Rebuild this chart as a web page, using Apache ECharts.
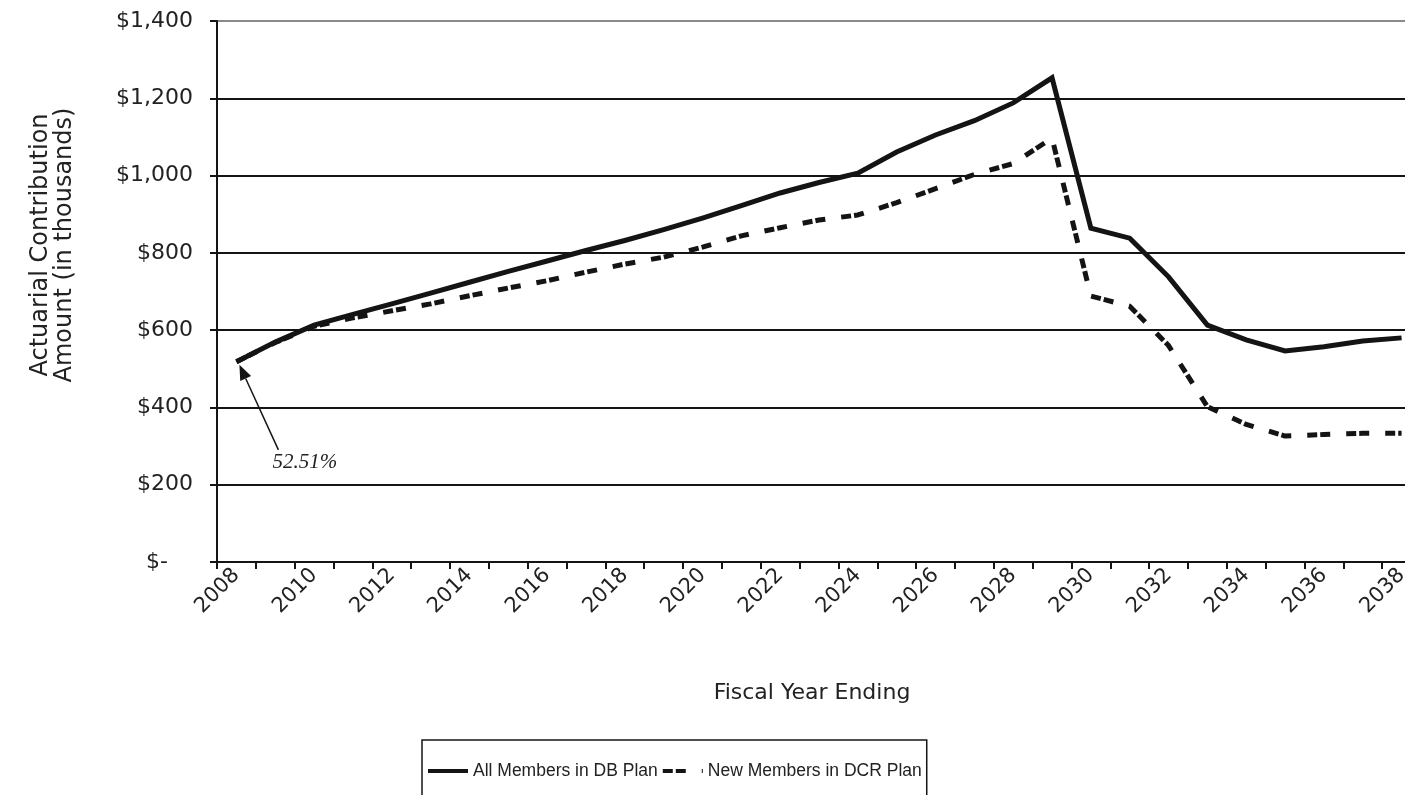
<!DOCTYPE html>
<html>
<head>
<meta charset="utf-8">
<script src="https://cdn.jsdelivr.net/npm/echarts@6/dist/echarts.min.js"></script>
<style>
html,body{margin:0;padding:0;background:#ffffff;}
#chart{width:1405px;height:795px;}
</style>
</head>
<body>
<div id="chart"></div>
<script>
// ---- data ----
const years = ['2008','2009','2010','2011','2012','2013','2014','2015','2016','2017',
               '2018','2019','2020','2021','2022','2023','2024','2025','2026','2027',
               '2028','2029','2030','2031','2032','2033','2034','2035','2036','2037','2038'];
const allMembersDB = [518, 569, 613, 641, 668, 696, 724, 752, 779, 806,
                      832, 860, 890, 922, 955, 982, 1006, 1061, 1105, 1142,
                      1188, 1253, 864, 838, 738, 613, 575, 546, 557, 572, 580];
const newMembersDCR = [518, 568, 610, 632, 650, 668, 689, 709, 728, 750,
                       771, 789, 815, 844, 865, 885, 898, 930, 966, 1003,
                       1031, 1097, 688, 662, 560, 402, 356, 326, 330, 333, 333];
const yMin = 0, yMax = 1400, yStep = 200;
const seriesNames = ['All Members in DB Plan', 'New Members in DCR Plan'];
const yTitleLines = ['Actuarial Contribution', 'Amount (in thousands)'];
const xTitle = 'Fiscal Year Ending';
const annotationText = '52.51%';

const chart = echarts.init(document.getElementById('chart'), null, {renderer: 'canvas'});
const ink = '#141414';

function yLabel(v) {
  if (v === 0) return '{z|$-}';
  return '$' + v.toLocaleString('en-US');
}

const option = {
  backgroundColor: '#ffffff',
  animation: false,
  grid: {left: 217, top: 21, right: -16, bottom: 233, containLabel: false, outerBoundsMode: 'none'},
  xAxis: {
    type: 'category',
    data: years,
    boundaryGap: true,
    axisLine: {show: true, lineStyle: {color: ink, width: 2}},
    axisTick: {show: true, interval: 0, length: 7, inside: false, lineStyle: {color: ink, width: 2}},
    axisLabel: {interval: 1, rotate: 45, margin: 10, color: '#222',
                fontFamily: 'DejaVu Sans', fontSize: 21},
    splitLine: {show: false}
  },
  yAxis: {
    type: 'value',
    min: yMin, max: yMax, interval: yStep,
    axisLine: {show: true, lineStyle: {color: ink, width: 2}},
    axisTick: {show: true, length: 7, inside: false, lineStyle: {color: ink, width: 2}},
    axisLabel: {formatter: yLabel, margin: 24, color: '#222',
                fontFamily: 'DejaVu Sans', fontSize: 22,
                rich: {z: {fontFamily: 'DejaVu Sans', fontSize: 22, color: '#222', padding: [0, 25, 0, 0]}}},
    splitLine: {show: true, lineStyle: {width: 2,
      color: [ink, ink, ink, ink, ink, ink, ink, '#8a8a8a']}}
  },
  legend: {
    left: 422, top: 740,
    orient: 'horizontal',
    itemGap: 3, itemWidth: 40, itemHeight: 14,
    padding: [22, 5, 30, 4],
    borderColor: ink, borderWidth: 1.5,
    itemStyle: {opacity: 0},
    lineStyle: {width: 4, color: ink},
    textStyle: {fontFamily: 'Liberation Sans', fontSize: 17.5, color: '#222'},
    data: seriesNames
  },
  series: [
    {
      name: seriesNames[0], type: 'line', data: allMembersDB,
      symbol: 'none', smooth: false,
      lineStyle: {color: ink, width: 5, type: 'solid', join: 'miter'},
      itemStyle: {color: ink}, z: 3
    },
    {
      name: seriesNames[1], type: 'line', data: newMembersDCR,
      symbol: 'none', smooth: false,
      lineStyle: {color: ink, width: 5, type: [10, 3, 10, 16], cap: 'butt'},
      itemStyle: {color: ink}, z: 2
    }
  ]
};
chart.setOption(option);

// annotation and axis titles, anchored to the chart's own coordinates
const p = chart.convertToPixel({xAxisIndex: 0, yAxisIndex: 0}, [years[0], allMembersDB[0]]);
const tip = [p[0] + 3, p[1] + 3];
const tail = [p[0] + 42, p[1] + 88];
const dx = tip[0] - tail[0], dy = tip[1] - tail[1];
const len = Math.sqrt(dx * dx + dy * dy);
const ux = dx / len, uy = dy / len;
const headLen = 15, headW = 6;
const base = [tip[0] - ux * headLen, tip[1] - uy * headLen];
const plotBottom = chart.convertToPixel({yAxisIndex: 0}, yMin);

chart.setOption({
  graphic: [
    {type: 'line', silent: true,
     shape: {x1: tail[0], y1: tail[1], x2: base[0], y2: base[1]},
     style: {stroke: ink, lineWidth: 1.5}},
    {type: 'polygon', silent: true,
     shape: {points: [tip,
       [base[0] - uy * headW, base[1] + ux * headW],
       [base[0] + uy * headW, base[1] - ux * headW]]},
     style: {fill: ink}},
    {type: 'text', silent: true, x: p[0] + 36, y: p[1] + 101,
     style: {text: annotationText, font: 'italic 21px "Liberation Serif"', fill: '#222',
             textAlign: 'left', textVerticalAlign: 'middle'}},
    {type: 'text', silent: true, x: 41, y: 245, rotation: Math.PI / 2,
     style: {text: yTitleLines[0], font: '24px "DejaVu Sans"', fill: '#222',
             textAlign: 'center', textVerticalAlign: 'middle'}},
    {type: 'text', silent: true, x: 65, y: 245, rotation: Math.PI / 2,
     style: {text: yTitleLines[1], font: '24px "DejaVu Sans"', fill: '#222',
             textAlign: 'center', textVerticalAlign: 'middle'}},
    {type: 'text', silent: true, x: 812, y: plotBottom + 131,
     style: {text: xTitle, font: '22px "DejaVu Sans"', fill: '#222',
             textAlign: 'center', textVerticalAlign: 'middle'}}
  ]
});
</script>
</body>
</html>
